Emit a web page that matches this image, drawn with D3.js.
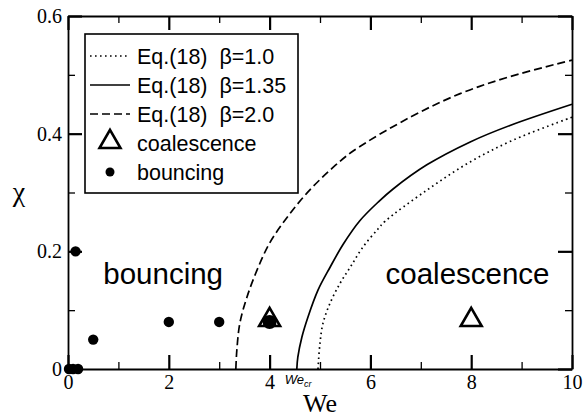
<!DOCTYPE html>
<html>
<head>
<meta charset="utf-8">
<script src="https://cdn.jsdelivr.net/npm/d3@7"></script>
<style>
  body { margin: 0; background: #fff; }
  svg { display: block; }
</style>
</head>
<body>
<svg id="chart" width="583" height="417"></svg>
<script>
// curves of Eq.(18)
var weB10 = [4.96, 5.0, 5.06, 5.2, 5.4, 5.6, 5.85, 6.15, 6.29, 7.12, 7.98, 8.83, 10];
var chiB10 = [0, 0.044, 0.078, 0.112, 0.146, 0.173, 0.207, 0.238, 0.251, 0.304, 0.352, 0.389, 0.428];

var weB135 = [4.54, 4.56, 4.64, 4.76, 4.96, 5.2, 5.46, 5.79, 6.17, 6.45, 7.12, 7.98, 8.77, 10];
var chiB135 = [0, 0.02, 0.054, 0.088, 0.134, 0.173, 0.212, 0.252, 0.285, 0.306, 0.347, 0.386, 0.414, 0.45];

var weB20 = [3.33, 3.35, 3.41, 3.55, 3.75, 4.0, 4.35, 4.74, 5.2, 5.65, 6.79, 7.78, 8.77, 10];
var chiB20 = [0, 0.032, 0.078, 0.122, 0.168, 0.214, 0.258, 0.299, 0.338, 0.37, 0.428, 0.468, 0.497, 0.525];

// experiments
var bounceWe = [0.02, 0.1, 0.2, 0.15, 0.5, 2, 3, 4];
var bounceChi = [0, 0, 0, 0.2, 0.05, 0.08, 0.08, 0.08];
var coalWe = [4, 8];
var coalChi = [0.08, 0.08];

var xMajor = [0, 2, 4, 6, 8, 10];
var xMinor = [1, 3, 5, 7, 9];
var yMajor = [0, 0.2, 0.4, 0.6];
var yMinor = [0.1, 0.3, 0.5];

var legendNames = ["Eq.(18)  \u03b2=1.0", "Eq.(18)  \u03b2=1.35", "Eq.(18)  \u03b2=2.0", "coalescence", "bouncing"];

var margin = {top: 16, right: 11, bottom: 48, left: 68},
    width = 583 - margin.left - margin.right,
    height = 417 - margin.top - margin.bottom;

var svg = d3.select("#chart")
    .append("g")
    .attr("transform", "translate(" + margin.left + "," + margin.top + ")");

var x = d3.scaleLinear().domain([0, 10]).range([0, width]);
var y = d3.scaleLinear().domain([0, 0.6]).range([height, 0]);

var serif = "'Liberation Serif'";
var sans = "'Liberation Sans'";

// axes: bottom/left with labels, top/right plain, ticks pointing inward
function frameAxis(gen, scale, vals, size, labels, tr) {
    return svg.append("g")
        .attr("transform", tr || null)
        .call(gen(scale).tickValues(vals).tickSizeInner(-size).tickSizeOuter(0)
            .tickPadding(labels ? 6 : 3)
            .tickFormat(labels ? d3.format("") : ""));
}

var axes = [
    [d3.axisBottom, x, "translate(0," + height + ")"],
    [d3.axisTop, x, null],
    [d3.axisLeft, y, null],
    [d3.axisRight, y, "translate(" + width + ",0)"]
];
axes.forEach(function (a, i) {
    var isX = a[1] === x;
    var maj = isX ? xMajor : yMajor;
    var mnr = isX ? xMinor : yMinor;
    var labels = (i === 0 || i === 2);
    var gMaj = frameAxis(a[0], a[1], maj, 14, labels, a[2]);
    gMaj.attr("font-family", null).attr("font-size", null);
    gMaj.select(".domain").attr("stroke", "#000").attr("stroke-width", 1.8);
    gMaj.selectAll(".tick line").attr("stroke", "#000").attr("stroke-width", 2.2);
    gMaj.selectAll(".tick text")
        .attr("fill", "#000")
        .style("font-family", serif)
        .style("font-size", "20px");
    var gMin = frameAxis(a[0], a[1], mnr, 7, false, a[2]);
    gMin.select(".domain").remove();
    gMin.selectAll(".tick line").attr("stroke", "#000").attr("stroke-width", 1.3);
});

// axis titles
svg.append("text")
    .attr("x", x(5))
    .attr("y", height + 43)
    .attr("text-anchor", "middle")
    .style("font-family", serif)
    .style("font-size", "26px")
    .text("We");

svg.append("text")
    .attr("x", -49)
    .attr("y", y(0.3) + 8)
    .attr("text-anchor", "middle")
    .style("font-family", serif)
    .style("font-size", "28px")
    .text("\u03c7");

// We_cr label
var wecr = svg.append("text")
    .attr("x", x(4.54) - 12)
    .attr("y", height + 15)
    .style("font-family", sans)
    .style("font-style", "italic")
    .style("font-size", "13px");
wecr.append("tspan").text("We");
wecr.append("tspan").attr("dy", 3).style("font-size", "9px").text("cr");

// curves
var line = d3.line()
    .x(function (d) { return x(d[0]); })
    .y(function (d) { return y(d[1]); })
    .curve(d3.curveCatmullRom.alpha(0.5));

var curves = [
    [weB10, chiB10, "1.6,3.4"],
    [weB135, chiB135, null],
    [weB20, chiB20, "8,4"]
];
curves.forEach(function (c) {
    svg.append("path")
        .datum(c[0].map(function (w, i) { return [w, c[1][i]]; }))
        .attr("d", line)
        .attr("fill", "none")
        .attr("stroke", "#000")
        .attr("stroke-width", 1.7)
        .attr("stroke-dasharray", c[2]);
});

// markers
var tri = d3.symbol().type(d3.symbolTriangle).size(190);

svg.selectAll(".coal")
    .data(coalWe)
    .enter().append("path")
    .attr("class", "coal")
    .attr("d", tri)
    .attr("transform", function (d, i) {
        return "translate(" + x(d) + "," + (y(coalChi[i]) - 2) + ")";
    })
    .attr("fill", "none")
    .attr("stroke", "#000")
    .attr("stroke-width", 2.6);

svg.selectAll(".bounce")
    .data(bounceWe)
    .enter().append("circle")
    .attr("class", "bounce")
    .attr("cx", function (d) { return x(d); })
    .attr("cy", function (d, i) { return y(bounceChi[i]); })
    .attr("r", function (d) { return d === 4 ? 7 : 5.2; })
    .attr("fill", "#000");

// region labels
svg.append("text")
    .attr("x", x(0.7))
    .attr("y", y(0.145))
    .style("font-family", sans)
    .style("font-size", "29.5px")
    .text("bouncing");

svg.append("text")
    .attr("x", x(6.3))
    .attr("y", y(0.145))
    .style("font-family", sans)
    .style("font-size", "29.5px")
    .text("coalescence");

// legend
var lg = svg.append("g")
    .attr("transform", "translate(" + (85 - margin.left) + "," + (34 - margin.top) + ")");

lg.append("rect")
    .attr("width", 213)
    .attr("height", 159)
    .attr("fill", "#fff")
    .attr("stroke", "#000")
    .attr("stroke-width", 1.6);

var rowY = function (i) { return 22 + i * 29; };
var lgDash = ["1.6,3.4", null, "8,4"];

lg.selectAll(".lgline")
    .data(lgDash)
    .enter().append("line")
    .attr("x1", 5).attr("x2", 45)
    .attr("y1", function (d, i) { return rowY(i); })
    .attr("y2", function (d, i) { return rowY(i); })
    .attr("stroke", "#000")
    .attr("stroke-width", 1.7)
    .attr("stroke-dasharray", function (d) { return d; });

lg.append("path")
    .attr("d", tri)
    .attr("transform", "translate(25," + (rowY(3) - 1) + ")")
    .attr("fill", "none")
    .attr("stroke", "#000")
    .attr("stroke-width", 2.6);

lg.append("circle")
    .attr("cx", 25)
    .attr("cy", rowY(4))
    .attr("r", 4.5)
    .attr("fill", "#000");

lg.selectAll(".lgtext")
    .data(legendNames)
    .enter().append("text")
    .attr("x", 52)
    .attr("y", function (d, i) { return rowY(i); })
    .attr("dy", "0.36em")
    .style("font-family", sans)
    .style("font-size", "21.5px")
    .style("white-space", "pre")
    .text(function (d) { return d; });
</script>
</body>
</html>
